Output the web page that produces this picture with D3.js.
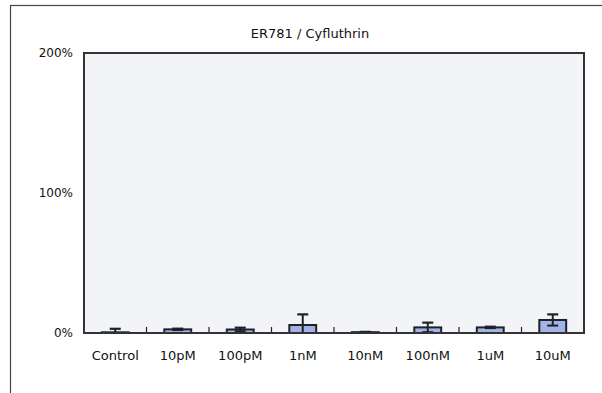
<!DOCTYPE html>
<html><head><meta charset="utf-8">
<script src="https://cdn.jsdelivr.net/npm/d3@7"></script>
<style>
html,body{margin:0;padding:0;background:#fff;}
svg{display:block;}
text{font-family:"DejaVu Sans",sans-serif;fill:#111;}
</style></head>
<body>
<svg id="chart" width="602" height="393"></svg>
<script>
const categories = ["Control","10pM","100pM","1nM","10nM","100nM","1uM","10uM"];
const values = [0.5, 2.6, 2.5, 5.7, 0.6, 4.0, 4.0, 9.3];
const errors = [2.5, 0.5, 1.3, 7.6, 0.2, 3.4, 0.5, 4.0];
const yTicks = [0, 100, 200];
const title = "ER781 / Cyfluthrin";

const FONT = '"DejaVu Sans",sans-serif';
const svg = d3.select("#chart");
const m = {left:84, right:18, top:53, bottom:60};
const W = 602, H = 393;
const x0 = m.left, x1 = W - m.right, y0 = H - m.bottom, y1 = m.top;

// outer frame
svg.append("rect").attr("x",10.5).attr("y",5.5).attr("width",620).attr("height",420)
  .attr("fill","none").attr("stroke","#444").attr("stroke-width",1.2);

const x = d3.scaleBand().domain(categories).range([x0, x1]).paddingInner(0.57).paddingOuter(0.285);
const xb = d3.scaleBand().domain(categories).range([x0, x1]);
const y = d3.scaleLinear().domain([0, 200]).range([y0, y1]);

// plot background
svg.append("rect").attr("x",x0).attr("y",y1).attr("width",x1-x0).attr("height",y0-y1)
  .attr("fill","#f3f4f7");

// bars
const g = svg.append("g");
g.selectAll("rect.bar").data(categories).join("rect").attr("class","bar")
  .attr("x", d => x(d)).attr("width", x.bandwidth())
  .attr("y", (d,i) => y(values[i])).attr("height", (d,i) => y(0) - y(values[i]))
  .attr("fill","#a3b3ea").attr("stroke","#1c2226").attr("stroke-width",2);

// error bars
const cap = 11;
categories.forEach((c,i) => {
  const cx = x(c) + x.bandwidth()/2;
  const hi = values[i] + errors[i];
  const lo = Math.max(0, values[i] - errors[i]);
  g.append("line").attr("x1",cx).attr("x2",cx).attr("y1",y(hi)).attr("y2",y(lo))
    .attr("stroke","#1c2226").attr("stroke-width",2);
  g.append("line").attr("x1",cx-cap/2).attr("x2",cx+cap/2).attr("y1",y(hi)).attr("y2",y(hi))
    .attr("stroke","#1c2226").attr("stroke-width",2.2);
  if (values[i] - errors[i] > 0) {
    g.append("line").attr("x1",cx-cap/2).attr("x2",cx+cap/2).attr("y1",y(lo)).attr("y2",y(lo))
      .attr("stroke","#1c2226").attr("stroke-width",2);
  }
});

// category boundary ticks (inside, up from axis)
const bounds = categories.slice(1).map(c => xb(c));
svg.selectAll("line.tk").data(bounds).join("line").attr("class","tk")
  .attr("x1",d=>d).attr("x2",d=>d).attr("y1",y0).attr("y2",y0-6)
  .attr("stroke","#222").attr("stroke-width",1.2);

// plot frame
svg.append("rect").attr("x",x0).attr("y",y1).attr("width",x1-x0).attr("height",y0-y1)
  .attr("fill","none").attr("stroke","#333").attr("stroke-width",2);

// x axis labels
const xAxis = d3.axisBottom(xb).tickSize(0).tickPadding(18);
const xg = svg.append("g").attr("transform",`translate(0,${y0})`).call(xAxis);
xg.select(".domain").remove();
xg.selectAll("text").style("font-size","13px").style("font-family",FONT).attr("fill","#111");

// y axis labels
const yAxis = d3.axisLeft(y).tickValues(yTicks).tickSize(0).tickPadding(11).tickFormat(d => d + "%");
const yg = svg.append("g").attr("transform",`translate(${x0},0)`).call(yAxis);
yg.select(".domain").remove();
yg.selectAll("text").style("font-size","12px").style("font-family",FONT).attr("fill","#111");

// title
svg.append("text").attr("x",310).attr("y",38).attr("text-anchor","middle")
  .style("font-size","13px").style("font-family",FONT).text(title);
</script>
</body></html>
